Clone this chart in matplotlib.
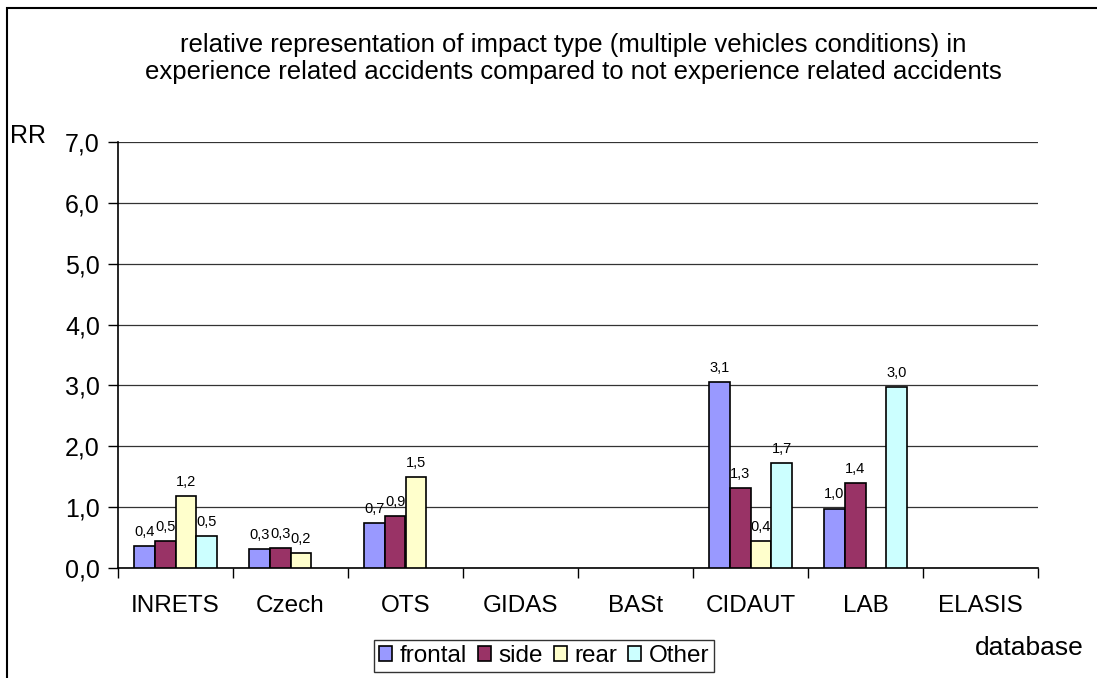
import matplotlib
matplotlib.use("Agg")
import matplotlib.pyplot as plt
import numpy as np
from matplotlib.patches import Rectangle

plt.rcParams['font.family'] = ['Liberation Sans', 'DejaVu Sans']

categories = ["INRETS", "Czech", "OTS", "GIDAS", "BASt", "CIDAUT", "LAB", "ELASIS"]
series_names = ["frontal", "side", "rear", "Other"]
frontal = [0.36, 0.31, 0.74, None, None, 3.06, 0.98, None]
side = [0.45, 0.33, 0.86, None, None, 1.31, 1.40, None]
rear = [1.18, 0.25, 1.50, None, None, 0.44, None, None]
other = [0.53, None, None, None, None, 1.72, 2.97, None]
colors = ["#9999FF", "#993366", "#FFFFCC", "#CCFFFF"]
yticks = [0, 1, 2, 3, 4, 5, 6, 7]

fig = plt.figure(figsize=(10.97, 6.78), dpi=100)
ax = fig.add_axes([118/1097, 1 - 568.3/678, (1038-118)/1097, (568.3-141.7)/678])

x = np.arange(len(categories))
w = 0.18
for i, (vals, c) in enumerate(zip([frontal, side, rear, other], colors)):
    pos = x + (i - 1.5) * w
    xs = [p for p, v in zip(pos, vals) if v is not None]
    vs = [v for v in vals if v is not None]
    ax.bar(xs, vs, width=w, color=c, edgecolor="black", linewidth=1.2,
           label=series_names[i], zorder=3)
    for p, v in zip(xs, vs):
        ax.text(p, v + 0.12, f"{v:.1f}".replace(".", ","), ha="center", va="bottom",
                fontsize=10.5, zorder=4)

ax.set_xlim(-0.5, len(categories) - 0.5)
ax.set_ylim(0, 7)
ax.set_yticks(yticks)
ax.set_yticklabels([f"{t:.1f}".replace(".", ",") for t in yticks], fontsize=18)
ax.yaxis.grid(True, color="#333333", linewidth=0.9, zorder=0)
ax.set_xticks(np.arange(len(categories) + 1) - 0.5)
ax.set_xticklabels([])
ax.set_xticks(x, minor=True)
ax.set_xticklabels(categories, minor=True, fontsize=17.5)
ax.tick_params(axis="x", which="minor", length=0, pad=19)
ax.tick_params(axis="x", which="major", length=7, width=1, direction="out")
ax.tick_params(axis="y", length=7, width=1, direction="out", pad=6)
for s in ["top", "right"]:
    ax.spines[s].set_visible(False)
ax.spines["left"].set_linewidth(1.2)
ax.spines["bottom"].set_linewidth(1.2)

fig.text(573/1097, 1 - 45/678, "relative representation of impact type (multiple vehicles conditions) in",
         ha="center", va="center", fontsize=18.5)
fig.text(573/1097, 1 - 72/678, "experience related accidents compared to not experience related accidents",
         ha="center", va="center", fontsize=18.5)
fig.text(28/1097, 1 - 136/678, "RR", ha="center", va="center", fontsize=18)
fig.text(1029/1097, 1 - 648/678, "database", ha="center", va="center", fontsize=19)

leg = fig.legend(loc="center", bbox_to_anchor=(544/1097, 1 - 656/678), ncol=4,
                 fontsize=17.5, frameon=True, fancybox=False, edgecolor="black",
                 handlelength=0.55, handleheight=0.55, handletextpad=0.3,
                 columnspacing=0.45, borderpad=0.2, borderaxespad=0)
leg.get_frame().set_linewidth(1.0)

fig.patches.append(Rectangle((7/1097, -0.1), 1.2, 1.1 - 8/678, transform=fig.transFigure,
                             fill=False, edgecolor="black", linewidth=1.5))

fig.savefig("out.png", dpi=100)
